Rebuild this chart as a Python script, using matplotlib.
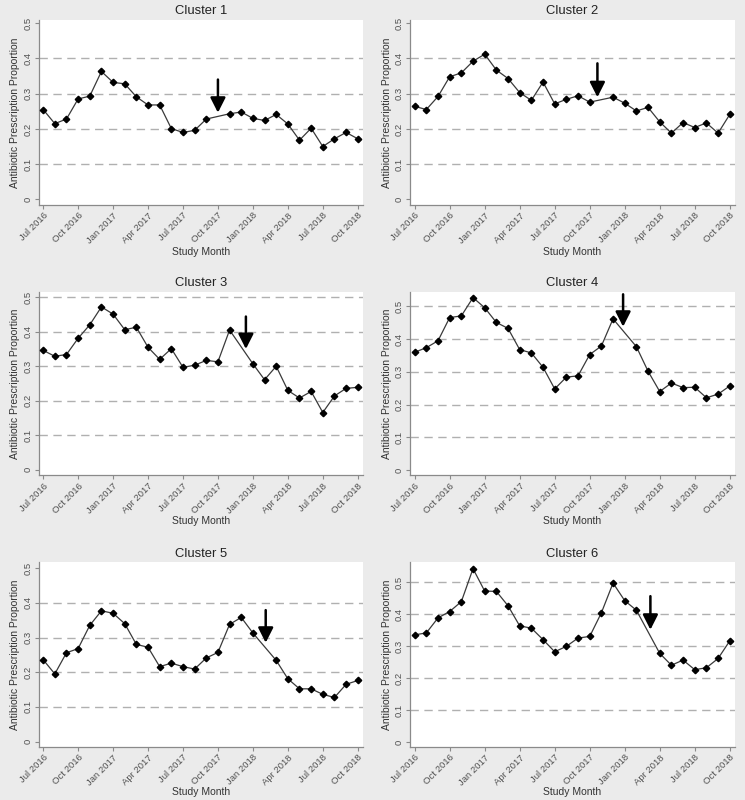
import numpy as np
import matplotlib
matplotlib.use("Agg")
import matplotlib.pyplot as plt

plt.rcParams['font.family'] = ['Liberation Sans', 'DejaVu Sans']

months = list(range(28))
tick_pos = [0, 3, 6, 9, 12, 15, 18, 21, 24, 27]
tick_labels = ["Jul 2016", "Oct 2016", "Jan 2017", "Apr 2017", "Jul 2017",
               "Oct 2017", "Jan 2018", "Apr 2018", "Jul 2018", "Oct 2018"]
y_ticks = [0, 0.1, 0.2, 0.3, 0.4, 0.5]
y_tick_labels = ["0", "0.1", "0.2", "0.3", "0.4", "0.5"]

N = None
cluster1 = [0.255, 0.215, 0.228, 0.285, 0.293, 0.363, 0.332, 0.328, 0.291, 0.268,
            0.268, 0.201, 0.190, 0.196, 0.228, N, 0.243, 0.248, 0.230, 0.224,
            0.241, 0.214, 0.168, 0.202, 0.150, 0.172, 0.190, 0.172]
cluster2 = [0.264, 0.255, 0.292, 0.348, 0.359, 0.392, 0.412, 0.367, 0.343, 0.303,
            0.281, 0.333, 0.271, 0.284, 0.294, 0.276, N, 0.290, 0.273, 0.251,
            0.261, 0.220, 0.188, 0.218, 0.204, 0.217, 0.188, 0.241]
cluster3 = [0.346, 0.329, 0.334, 0.381, 0.420, 0.472, 0.451, 0.406, 0.413, 0.355,
            0.320, 0.351, 0.297, 0.303, 0.317, 0.313, 0.405, N, 0.307, 0.261,
            0.300, 0.230, 0.208, 0.227, 0.166, 0.214, 0.236, 0.239]
cluster4 = [0.360, 0.374, 0.395, 0.466, 0.471, 0.527, 0.496, 0.451, 0.433, 0.368,
            0.358, 0.314, 0.248, 0.284, 0.288, 0.353, 0.379, 0.462, N, 0.377,
            0.302, 0.240, 0.266, 0.252, 0.253, 0.221, 0.232, 0.257]
cluster5 = [0.236, 0.195, 0.256, 0.268, 0.335, 0.377, 0.370, 0.340, 0.280, 0.272,
            0.216, 0.226, 0.216, 0.209, 0.241, 0.257, 0.338, 0.358, 0.313, N,
            0.234, 0.181, 0.152, 0.152, 0.136, 0.127, 0.165, 0.176]
cluster6 = [0.335, 0.341, 0.388, 0.408, 0.439, 0.542, 0.472, 0.471, 0.426, 0.363,
            0.356, 0.320, 0.282, 0.299, 0.325, 0.330, 0.404, 0.497, 0.442, 0.412,
            N, 0.277, 0.240, 0.256, 0.226, 0.232, 0.261, 0.316]

series = [cluster1, cluster2, cluster3, cluster4, cluster5, cluster6]
titles = ["Cluster 1", "Cluster 2", "Cluster 3", "Cluster 4", "Cluster 5", "Cluster 6"]
# arrow: month position, top value, tip value
arrow_x = [15.0, 15.66, 17.4, 17.86, 19.1, 20.2]
arrow_top = [0.340, 0.386, 0.444, 0.537, 0.379, 0.456]
arrow_tip = [0.246, 0.290, 0.350, 0.438, 0.285, 0.351]
ytop = [0.509, 0.509, 0.516, 0.545, 0.517, 0.562]
grid_max = [0.4, 0.4, 0.5, 0.5, 0.4, 0.5]

BG = "#ebebeb"
fig = plt.figure(figsize=(7.45, 8.0), dpi=100, facecolor=BG)

W, H = 745.0, 800.0
lefts = [38.5, 410]
widths = [324.5, 325]
tops = [20, 291.7, 562.3]
bottoms = [204.7, 475, 746.7]
xlabel_gap = [47, 46.5, 45]
ylabel_gap = 23.5

for i in range(6):
    r, c = divmod(i, 2)
    hpx = bottoms[r] - tops[r]
    ax = fig.add_axes([lefts[c] / W, 1 - bottoms[r] / H,
                       widths[c] / W, hpx / H])
    ax.set_facecolor("white")
    vals = series[i]
    xs = [m for m, v in zip(months, vals) if v is not None]
    ys = [v for v in vals if v is not None]
    for g in [0.1, 0.2, 0.3, 0.4, 0.5]:
        if g <= grid_max[i] + 1e-9:
            ax.axhline(g, color="#b0b0b0", lw=1.0, dashes=(6, 4), zorder=1)
    ax.plot(xs, ys, color="#3a3a3a", lw=0.9, marker="D", markersize=3.3,
            markerfacecolor="black", markeredgecolor="black", zorder=3)
    ax.annotate("", xy=(arrow_x[i], arrow_tip[i]), xytext=(arrow_x[i], arrow_top[i]),
                arrowprops=dict(arrowstyle="-|>,head_width=0.38,head_length=0.75",
                                color="black", lw=1.8, shrinkA=0, shrinkB=0,
                                mutation_scale=12), zorder=4)
    ax.set_xlim(-0.4, 27.45)
    ax.set_ylim(-0.015, ytop[i])
    ax.set_xticks(tick_pos)
    ax.set_xticklabels(tick_labels, rotation=45, ha="right", va="top",
                       rotation_mode="anchor", fontsize=6.8, color="#505050")
    ax.set_yticks(y_ticks)
    ax.set_yticklabels(y_tick_labels, rotation=90, va="center",
                       fontsize=6.8, color="#505050")
    ax.tick_params(axis="both", direction="out", length=3.0, width=0.8,
                   color="#8a8a8a", pad=1.5)
    for s in ["top", "right"]:
        ax.spines[s].set_visible(False)
    for s in ["left", "bottom"]:
        ax.spines[s].set_color("#8a8a8a")
        ax.spines[s].set_linewidth(0.9)
    ax.set_title(titles[i], fontsize=9.4, color="#222222", pad=4)
    ax.set_ylabel("Antibiotic Prescription Proportion", fontsize=7.5,
                  color="#333333", va="center")
    ax.yaxis.set_label_coords(-ylabel_gap / widths[c], 0.5)
    ax.set_xlabel("Study Month", fontsize=7.5, color="#333333", va="center")
    ax.xaxis.set_label_coords(0.5, -xlabel_gap[r] / hpx)

fig.savefig("out.png", dpi=100, facecolor=BG)
